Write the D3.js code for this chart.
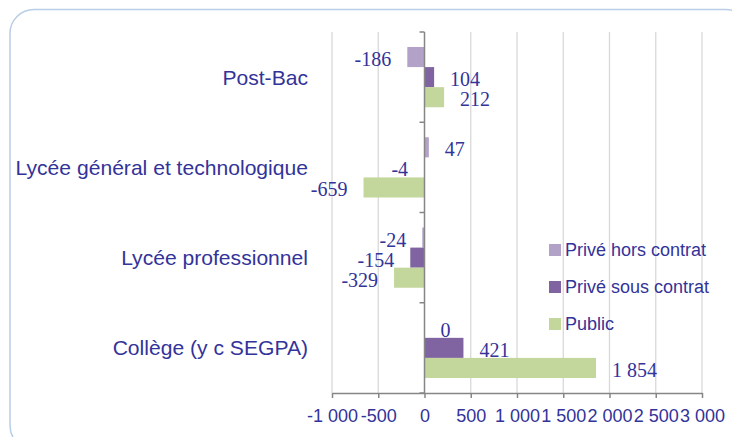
<!DOCTYPE html>
<html lang="fr">
<head>
    <meta charset="UTF-8">
    <title>Effectifs par secteur</title>
    <style>
        body, html {
            margin: 0;
            padding: 0;
            background: #fff;
            font-family: "Liberation Sans", Arial, sans-serif;
        }
        #chart svg { display: block; }
    </style>
    <script src="https://d3js.org/d3.v7.min.js"></script>
</head>
<body>
    <div id="chart"></div>
    <script>
        const categories = ["Post-Bac", "Lycée général et technologique", "Lycée professionnel", "Collège (y c SEGPA)"];
        const seriesNames = ["Privé hors contrat", "Privé sous contrat", "Public"];
        const horsContrat = [-186, 47, -24, 0];
        const sousContrat = [104, -4, -154, 421];
        const publicValues = [212, -659, -329, 1854];
        const xTicks = [-1000, -500, 0, 500, 1000, 1500, 2000, 2500, 3000];
        const colors = ["#b3a2c7", "#8064a2", "#c3d69b"];

        const W = 732, H = 437;
        const margin = { top: 32, right: 30, bottom: 44, left: 332 };
        const textColor = "#333399";

        const svg = d3.select("#chart").append("svg")
            .attr("width", W)
            .attr("height", H);

        // rounded frame, partly cut off on right and bottom
        svg.append("rect")
            .attr("x", 10).attr("y", 9.5)
            .attr("width", 740).attr("height", 440)
            .attr("rx", 24).attr("ry", 24)
            .attr("fill", "none")
            .attr("stroke", "#b9cde5")
            .attr("stroke-width", 1.5);

        const x = d3.scaleLinear()
            .domain([-1000, 3000])
            .range([margin.left, W - margin.right]);

        const y = d3.scaleBand()
            .domain(categories)
            .range([margin.top, H - margin.bottom]);

        const inner = d3.scaleBand()
            .domain(seriesNames)
            .range([15, y.bandwidth() - 15]);

        const fr = d3.formatLocale({ decimal: ",", thousands: " ", grouping: [3], currency: ["", " €"], minus: "-" });
        const fmt = fr.format(",d");

        // gridlines
        svg.append("g")
            .selectAll("line")
            .data(xTicks.filter(d => d !== 0))
            .join("line")
            .attr("x1", d => x(d)).attr("x2", d => x(d))
            .attr("y1", margin.top).attr("y2", H - margin.bottom)
            .attr("stroke", "#d9d9d9")
            .attr("stroke-width", 1.3);

        const rows = categories.map((c, i) => ({
            cat: c,
            vals: [horsContrat[i], sousContrat[i], publicValues[i]]
        }));

        const groups = svg.append("g")
            .selectAll("g")
            .data(rows)
            .join("g")
            .attr("transform", d => `translate(0,${y(d.cat)})`);

        groups.selectAll("rect")
            .data(d => d.vals.map((v, k) => ({ v, k })))
            .join("rect")
            .attr("x", d => x(Math.min(0, d.v)))
            .attr("y", d => inner(seriesNames[d.k]))
            .attr("width", d => Math.abs(x(d.v) - x(0)))
            .attr("height", inner.bandwidth())
            .attr("fill", d => colors[d.k]);

        groups.selectAll("text")
            .data(d => d.vals.map((v, k) => ({ v, k })))
            .join("text")
            .attr("x", d => d.v < 0 ? x(d.v) - 16 : x(d.v) + 16)
            .attr("y", d => inner(seriesNames[d.k]) + inner.bandwidth() / 2 + 2)
            .attr("dy", "0.35em")
            .attr("text-anchor", d => d.v < 0 ? "end" : "start")
            .attr("font-family", "'Liberation Serif', 'Times New Roman', serif")
            .attr("font-size", 20)
            .attr("fill", textColor)
            .text(d => fmt(d.v));

        // y axis at zero
        const yAxis = d3.axisLeft(y).tickSize(5).tickFormat("");
        const yg = svg.append("g")
            .attr("transform", `translate(${x(0)},0)`)
            .call(yAxis);
        yg.selectAll(".tick line").attr("transform", `translate(0,${-y.bandwidth() / 2})`);
        yg.append("line")
            .attr("x1", -5).attr("x2", 0)
            .attr("y1", H - margin.bottom).attr("y2", H - margin.bottom);
        yg.select(".domain").attr("d", `M0,${margin.top}V${H - margin.bottom}`);
        yg.selectAll("line, .domain").attr("stroke", "#868686").attr("stroke-width", 1.5);

        // bottom axis
        const xg = svg.append("g")
            .attr("transform", `translate(0,${H - margin.bottom})`)
            .call(d3.axisBottom(x).tickValues(xTicks).tickSize(5).tickSizeOuter(0).tickFormat(fmt));
        xg.select(".domain").attr("stroke", "#868686").attr("stroke-width", 1.5);
        xg.selectAll(".tick line").attr("stroke", "#868686").attr("stroke-width", 1.5);
        xg.selectAll(".tick text")
            .attr("y", 16)
            .attr("font-family", "'Liberation Sans', Arial, sans-serif")
            .attr("font-size", 18)
            .attr("fill", textColor);

        // category labels
        svg.append("g")
            .selectAll("text")
            .data(categories)
            .join("text")
            .attr("x", margin.left - 24)
            .attr("y", d => y(d) + y.bandwidth() / 2)
            .attr("dy", "0.35em")
            .attr("text-anchor", "end")
            .attr("font-size", 21.1)
            .attr("fill", textColor)
            .text(d => d);

        // legend
        const legend = svg.append("g")
            .attr("transform", "translate(549,250)");
        const li = legend.selectAll("g")
            .data(seriesNames)
            .join("g")
            .attr("transform", (d, i) => `translate(0,${i * 37})`);
        li.append("rect")
            .attr("x", 0).attr("y", -6)
            .attr("width", 12).attr("height", 12)
            .attr("fill", (d, i) => colors[i]);
        li.append("text")
            .attr("x", 16)
            .attr("dy", "0.35em")
            .attr("font-size", 18)
            .attr("fill", textColor)
            .text(d => d);
    </script>
</body>
</html>
